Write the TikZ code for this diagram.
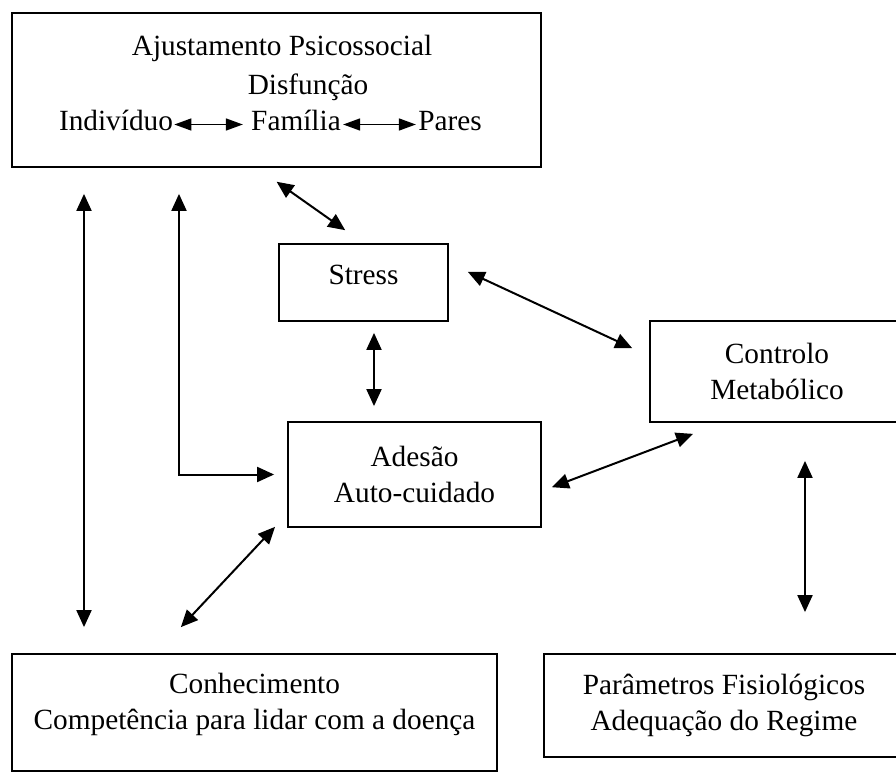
\documentclass[tikz,border=0pt]{standalone}
\usepackage{fontspec}
\setmainfont{Liberation Serif}
\usetikzlibrary{arrows.meta}

\tikzset{
  box/.style={draw, line width=0.9pt, inner sep=0pt, align=center},
  pair/.style={{Triangle[length=8.5pt,width=7.5pt]}-{Triangle[length=8.5pt,width=7.5pt]}, line width=1pt},
  small pair/.style={{Triangle[length=8.5pt,width=6pt]}-{Triangle[length=8.5pt,width=6pt]}, line width=0.8pt},
  rowtext/.style={inner sep=0pt, text height=0.7em, text depth=0.15em}
}

\begin{document}
\begin{tikzpicture}[x=0.5pt, y=-0.5pt, font=\fontsize{14.65pt}{18pt}\selectfont]
  \useasboundingbox (0,0) rectangle (896,776);
  \clip (0,0) rectangle (896,776);
  % boxes
  \node[box, minimum width=264.5pt, minimum height=77pt] (psico) at (276.5,90) {};
  \node[box, minimum width=84.5pt, minimum height=38.5pt, text depth=7.5pt] (stress) at (363.5,282.5) {Stress};
  \node[box, minimum width=127pt, minimum height=50.5pt] (controlo) at (777,371.5) {Controlo\\Metabólico};
  \node[box, minimum width=126.5pt, minimum height=52.5pt] (adesao) at (414.5,474.5) {Adesão\\Auto-cuidado};
  \node[box, minimum width=242.5pt, minimum height=58.5pt, text depth=11pt] (conhec) at (254.5,712.5) {Conhecimento\\Competência para lidar com a doença};
  \node[box, minimum width=180pt, minimum height=51.5pt] (param) at (724,705.5) {Parâmetros Fisiológicos\\Adequação do Regime};
  % text of the top box
  \node[anchor=base, inner sep=0pt] (ajust) at (282,55) {Ajustamento Psicossocial};
  \node[anchor=base, inner sep=0pt] (disf) at (308,94) {Disfunção};
  \node[rowtext, anchor=base] (indiv) at (116,130) {Indivíduo};
  \node[rowtext, anchor=base] (familia) at (296,130) {Família};
  \node[rowtext, anchor=base] (pares) at (450,130) {Pares};
  \draw[small pair, shorten <=0.5pt, shorten >=4pt] (indiv) -- (familia);
  \draw[small pair, shorten <=1pt, shorten >=1pt] (familia) -- (pares);
  % connectors
  \draw[pair, shorten <=13pt, shorten >=13pt] (psico.south -| 84,0) -- (conhec.north -| 84,0);
  \draw[pair, shorten <=13pt, shorten >=6.5pt] (psico.south -| 179,0) |- (adesao.west);
  \draw[pair, shorten <=12pt, shorten >=11.2pt] (psico.south -| 257,0) -- (stress.north);
  \draw[pair, shorten <=10.4pt, shorten >=9.3pt] (stress.east |- 0,263) -- (controlo.west |- 0,356);
  \draw[pair, shorten <=5.5pt, shorten >=7.5pt] (stress.south -| 374,0) -- (adesao.north -| 374,0);
  \draw[pair, shorten <=5.35pt, shorten >=15.5pt] (adesao.east |- 0,491) -- (controlo.south -| 722,0);
  \draw[pair, shorten <=17.8pt, shorten >=8.8pt] (conhec.north -| 156.5,0) -- (adesao.west |- 0,514);
  \draw[pair, shorten <=19pt, shorten >=20.5pt] (controlo.south -| 805,0) -- (param.north -| 805,0);
\end{tikzpicture}
\end{document}
